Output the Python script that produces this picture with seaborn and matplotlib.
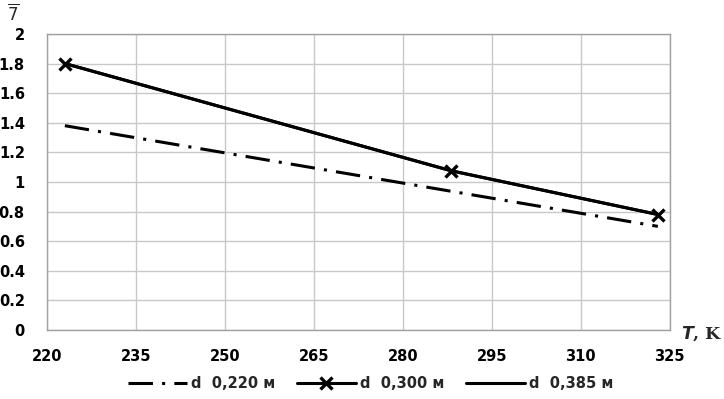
import numpy as np
import pandas as pd
import matplotlib
matplotlib.use("Agg")
import matplotlib.pyplot as plt
import seaborn as sns
from matplotlib.ticker import FormatStrFormatter

# data
T_220 = [223, 323]
eta_220 = [1.38, 0.70]
T_300 = [223, 288.2, 323]
eta_300 = [1.80, 1.075, 0.78]
T_385 = [223, 288.2, 323]
eta_385 = [1.80, 1.075, 0.78]
labels = ["d  0,220 м", "d  0,300 м", "d  0,385 м"]

sns.set_style("whitegrid")
plt.rcParams["font.family"] = ["DejaVu Sans"]
plt.rcParams["xtick.major.pad"] = 14
plt.rcParams["ytick.major.pad"] = 16
plt.rcParams["xtick.major.size"] = 0
plt.rcParams["ytick.major.size"] = 0
plt.rcParams["xtick.labelcolor"] = "black"
plt.rcParams["ytick.labelcolor"] = "black"

fig = plt.figure(figsize=(7.24, 3.99), dpi=100)
ax = fig.add_axes([0.065, 0.173, 0.86, 0.742])

sns.lineplot(x=T_220, y=eta_220, color="black", linewidth=2.2,
             dashes=False, label=labels[0], ax=ax, sort=False)
ax.lines[-1].set_dashes((8, 3, 1, 3))
sns.lineplot(x=T_385, y=eta_385, color="black", linewidth=2.2,
             label=labels[2], ax=ax, sort=False)
sns.lineplot(x=T_300, y=eta_300, color="black", linewidth=2.2, marker="x",
             markersize=8, markeredgewidth=2.4, markeredgecolor="black",
             label=labels[1], ax=ax, sort=False)

ax.set_xlim(220, 325)
ax.set_ylim(0, 2)
ax.set_xticks(np.arange(220, 326, 15))
ax.set_yticks(np.arange(0, 2.01, 0.2))
ax.yaxis.set_major_formatter(FormatStrFormatter("%g"))
ax.grid(color="#c8c8c8", linewidth=1)
for s in ax.spines.values():
    s.set_color("#a0a0a0")
    s.set_linewidth(1)
ax.set_xlabel("")
ax.set_ylabel("")

fig.text(0.941, 0.165, r"$\mathbfit{T}$, K", fontsize=12.5, fontweight="bold",
         family="DejaVu Serif", ha="left", va="center")
fig.text(0.018, 0.965, r"$\overline{7}$", fontsize=12, ha="center", va="center")

h, l = ax.get_legend_handles_labels()
order = [l.index(x) for x in labels]
ax.legend([h[i] for i in order], [l[i] for i in order],
          loc="upper center", bbox_to_anchor=(0.52, -0.11), ncol=3, frameon=False,
          prop={"weight": "bold", "size": 10.5}, handlelength=4, columnspacing=1.5,
          handletextpad=0.3)

# bold tick labels, set last so nothing resets them
fig.canvas.draw()
for lab in ax.get_xticklabels() + ax.get_yticklabels():
    lab.set_fontweight("bold")
    lab.set_fontsize(10.5)

fig.savefig("out.png", dpi=100)
